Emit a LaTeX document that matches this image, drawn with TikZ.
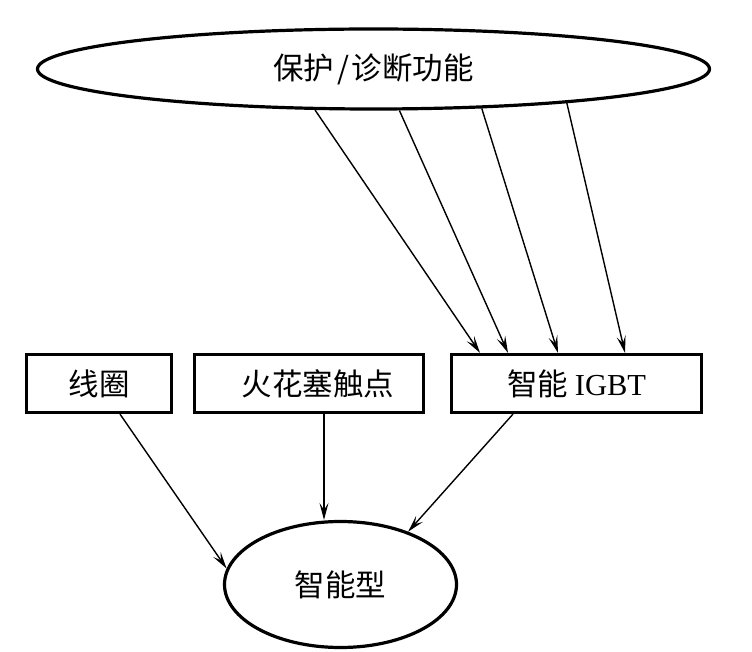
\documentclass[tikz,border=0pt]{standalone}
\usepackage{fontspec}
\setmainfont{Liberation Serif}
\newfontfamily\cjk{Noto Sans CJK SC}
\usetikzlibrary{shapes.geometric,arrows.meta}
\tikzset{
  thickline/.style={draw, line width=3.2pt},
  ovalnode/.style={thickline, ellipse, inner sep=0pt, font=\cjk\fontsize{30.5}{35}\selectfont},
  boxnode/.style={thickline, rectangle, inner sep=0pt, minimum height=58pt, font=\cjk\fontsize{30.5}{35}\selectfont},
  link/.style={line width=1.4pt, -{Stealth[length=17pt,width=9pt,inset=7pt]}}
}
\begin{document}
\begin{tikzpicture}[x=1pt,y=-1pt]
\useasboundingbox (0,0) rectangle (752,652);
\fill[white] (0,0) rectangle (752,652);
\node[ovalnode, minimum width=672pt, minimum height=80pt] (top) at (373.5,69) {保护\hspace{3pt}/\hspace{3pt}诊断功能};
\node[boxnode, minimum width=145pt] (coil) at (99,383.5) {线圈};
\node[boxnode, minimum width=229pt] (plug) at (309,383.5) {\hspace{18pt}火花塞触点};
\node[boxnode, minimum width=250pt] (igbt) at (576.5,383.5) {智能 {\rmfamily IGBT}};
\node[ovalnode, minimum width=232pt, minimum height=126pt] (smart) at (340.5,584.5) {智能型};
\coordinate (p1) at ([xshift=15pt]plug.south);
\coordinate (p2) at (p1 |- smart.north);
\draw[link] (top.-145.1) -- ([xshift=-96.5pt]igbt.north);
\draw[link] (top.-58.45) -- ([xshift=-68.5pt]igbt.north);
\draw[link] (top.-20) -- ([xshift=-18.5pt]igbt.north);
\draw[link] (top.-10.04) -- ([xshift=48.5pt]igbt.north);
\draw[link] ([xshift=21pt]coil.south) -- (smart.172.9);
\draw[link] (p1) -- (p2);
\draw[link] ([xshift=-63.5pt]igbt.south) -- (smart.38.5);
\end{tikzpicture}
\end{document}
